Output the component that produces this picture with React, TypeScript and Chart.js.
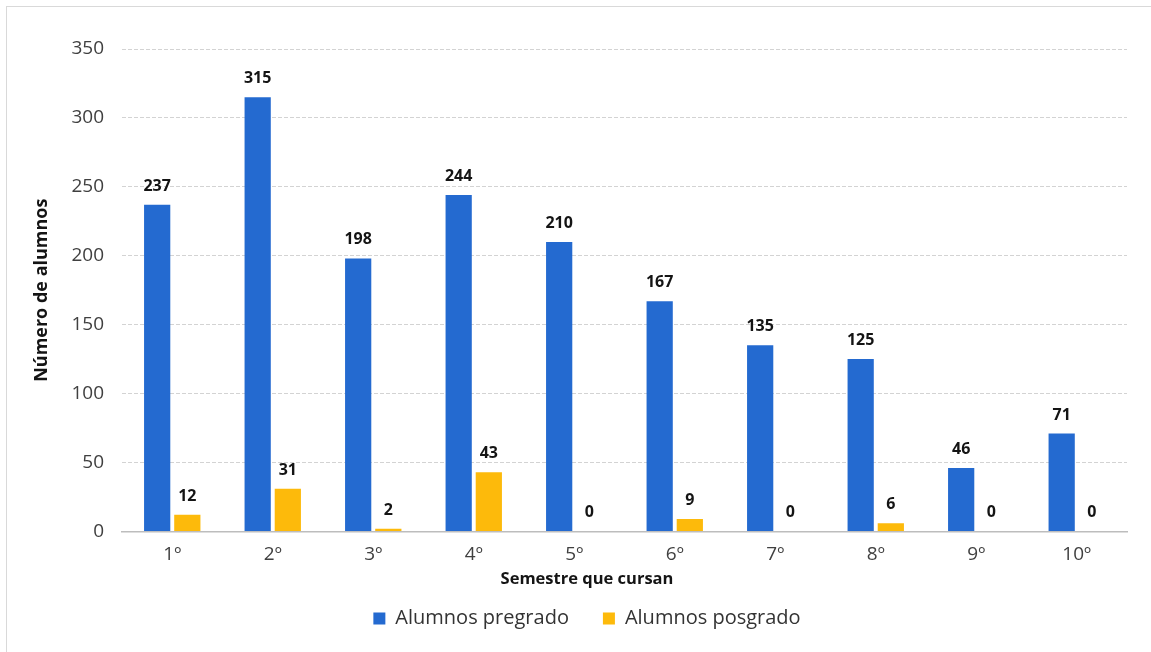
import React, { useEffect, useRef } from "react";
import { Chart, registerables } from "chart.js";

Chart.register(...registerables);

const semesters = ["1º", "2º", "3º", "4º", "5º", "6º", "7º", "8º", "9º", "10º"];
const pregrado = [237, 315, 198, 244, 210, 167, 135, 125, 46, 71];
const posgrado = [12, 31, 2, 43, 0, 9, 0, 6, 0, 0];
const seriesNames = ["Alumnos pregrado", "Alumnos posgrado"];
const yAxisTitle = "Número de alumnos";
const xAxisTitle = "Semestre que cursan";
const yMax = 350;
const yStep = 50;

const BLUE = "#246AD0";
const YELLOW = "#FDBA0B";
const FONT = "'Open Sans', 'Noto Sans', sans-serif";

const valueLabels = {
  id: "valueLabels",
  afterDatasetsDraw(chart: any) {
    const ctx = chart.ctx;
    ctx.save();
    ctx.font = `bold 16px ${FONT}`;
    ctx.fillStyle = "#141414";
    ctx.textAlign = "center";
    ctx.textBaseline = "alphabetic";
    chart.data.datasets.forEach((ds: any, i: number) => {
      const meta = chart.getDatasetMeta(i);
      meta.data.forEach((el: any, j: number) => {
        ctx.fillText(String(ds.data[j]), el.x, el.y - 14);
      });
    });
    ctx.restore();
  },
};

export default function App() {
  const canvasRef = useRef<HTMLCanvasElement>(null);

  useEffect(() => {
    document.body.style.margin = "0";
    const canvas = canvasRef.current;
    if (!canvas) return;
    const chart = new Chart(canvas, {
      type: "bar",
      data: {
        labels: semesters,
        datasets: [
          {
            label: seriesNames[0],
            data: pregrado,
            backgroundColor: BLUE,
            borderWidth: 0,
            categoryPercentage: 0.6,
            barPercentage: 0.87,
          },
          {
            label: seriesNames[1],
            data: posgrado,
            backgroundColor: YELLOW,
            borderWidth: 0,
            categoryPercentage: 0.6,
            barPercentage: 0.87,
          },
        ],
      },
      options: {
        animation: false,
        responsive: false,
        maintainAspectRatio: false,
        layout: { padding: { top: 42, left: 40, right: 20, bottom: 13.5 } },
        plugins: {
          tooltip: { enabled: false },
          legend: {
            position: "bottom",
            labels: {
              boxWidth: 12,
              boxHeight: 12,
              padding: 34,
              color: "#333333",
              font: { family: FONT, size: 20 },
            },
            title: {
              display: true,
              text: xAxisTitle,
              color: "#141414",
              font: { family: FONT, size: 16.5, weight: "bold" },
              padding: { top: 1, bottom: -16.5 },
            },
          },
        },
        scales: {
          x: {
            grid: { display: false },
            border: { display: true, color: "#bdbdbd", width: 1.5 },
            ticks: {
              padding: 4,
              color: "#404040",
              font: { family: FONT, size: 19 },
            },
          },
          y: {
            min: 0,
            max: yMax,
            afterFit(scale: any) {
              scale.width = 75;
            },
            ticks: {
              stepSize: yStep,
              padding: 18,
              color: "#404040",
              font: { family: FONT, size: 19 },
            },
            grid: {
              drawTicks: false,
              color: (ctx: any) => (ctx.tick && ctx.tick.value === 0 ? "rgba(0,0,0,0)" : "#d3d3d3"),
              lineWidth: 1,
            },
            border: { display: false, dash: [4, 2] },
            title: {
              display: true,
              text: yAxisTitle,
              color: "#141414",
              font: { family: FONT, size: 18, weight: "bold" },
              padding: { top: -16.3, bottom: 0 },
            },
          },
        },
      },
      plugins: [valueLabels],
    });
    return () => chart.destroy();
  }, []);

  return (
    <div
      style={{
        position: "fixed",
        left: 0,
        top: 0,
        width: 1151,
        height: 652,
        overflow: "hidden",
        background: "#ffffff",
      }}
    >
      <div
        style={{
          position: "absolute",
          left: 6,
          top: 6,
          width: 1170,
          height: 670,
          border: "1px solid #d9d9d9",
          background: "#ffffff",
        }}
      >
        <canvas ref={canvasRef} width={1140} height={645} style={{ display: "block" }} />
      </div>
    </div>
  );
}
